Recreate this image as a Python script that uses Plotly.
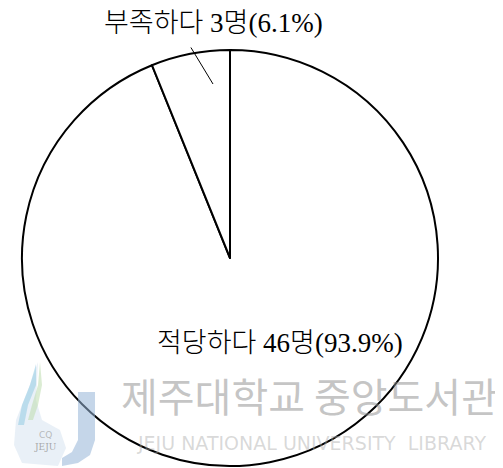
import plotly.graph_objects as go

labels = ["부족하다", "적당하다"]
counts = [3, 46]
percents = ["6.1%", "93.9%"]

# page offset from default body margin
OFF = 8
W, H = 495, 460
ml, mr, mt, mb = 14, 65, 42, 2
pw, ph = W - ml - mr, H - mt - mb

def px(x):  # page pixel -> paper
    return (x - OFF - ml) / pw

def py(y):
    return (H - mb - (y - OFF)) / ph

# clockwise from 12 o'clock: large slice first, small slice ends at 12 o'clock
fig = go.Figure(go.Pie(
    labels=labels[::-1],
    values=counts[::-1],
    sort=False,
    direction="clockwise",
    rotation=0,
    textinfo="none",
    hoverinfo="label+value+percent",
    marker=dict(colors=["white", "white"], line=dict(color="black", width=2)),
    showlegend=False,
))

font_main = dict(family="Liberation Serif, Noto Sans CJK KR", size=27, color="black", weight=300)
texts = [f"{l} {c}명({p})" for l, c, p in zip(labels, counts, percents)]

def ann(x, y, text, font, **kw):
    fig.add_annotation(x=px(x), y=py(y), xref="paper", yref="paper", text=text,
                       showarrow=False, font=font, xanchor="center", yanchor="middle", **kw)

ann(213, 23, texts[0], font_main)
ann(280, 343, texts[1], font_main)
# leader line
fig.add_annotation(x=px(213), y=py(84), xref="paper", yref="paper", text="",
                   showarrow=True, arrowhead=0, arrowwidth=1, arrowcolor="black",
                   ax=-23, ay=-38, standoff=0, startstandoff=0)

# watermark logo (approximate)
def path(pts):
    s = f"M {px(pts[0][0]):.4f},{py(pts[0][1]):.4f}"
    for a, b in pts[1:]:
        s += f" L {px(a):.4f},{py(b):.4f}"
    return s + " Z"

fig.add_shape(type="path", xref="paper", yref="paper", layer="above",
              path=path([(78, 392), (95, 392), (95, 440), (90, 455), (78, 463), (62, 466), (62, 458), (72, 452), (78, 440)]),
              fillcolor="rgba(150,180,215,0.55)", line=dict(width=0))
fig.add_shape(type="path", xref="paper", yref="paper", layer="above",
              path=path([(38, 362), (28, 390), (16, 420), (14, 445), (22, 463), (58, 466), (66, 448), (60, 430), (42, 420), (36, 400)]),
              fillcolor="rgba(215,228,240,0.55)", line=dict(width=0))
fig.add_shape(type="path", xref="paper", yref="paper", layer="above",
              path=path([(36, 364), (30, 385), (22, 405), (18, 425), (24, 425), (28, 405), (36, 385)]),
              fillcolor="rgba(140,200,225,0.5)", line=dict(width=0))
fig.add_shape(type="path", xref="paper", yref="paper", layer="above",
              path=path([(40, 362), (38, 385), (32, 405), (28, 420), (33, 420), (38, 405), (42, 385)]),
              fillcolor="rgba(190,220,175,0.55)", line=dict(width=0))
ann(45, 435, "CQ", dict(family="DejaVu Sans", size=9, color="rgba(160,160,160,0.7)"))
ann(45, 447, "JEJU", dict(family="DejaVu Serif", size=9, color="rgba(150,150,150,0.8)"))

# watermark text
ann(309, 395, "제주대학교 중앙도서관",
    dict(family="Noto Sans CJK KR", size=40, color="rgba(140,140,140,0.5)"))
ann(311, 443, "JEJU NATIONAL UNIVERSITY  LIBRARY",
    dict(family="DejaVu Sans", size=19, color="rgba(170,170,170,0.45)"))

fig.update_layout(
    width=W, height=H,
    margin=dict(l=ml, r=mr, t=mt, b=mb, pad=0),
    paper_bgcolor="white", plot_bgcolor="white",
)

fig.write_html("out.html")
